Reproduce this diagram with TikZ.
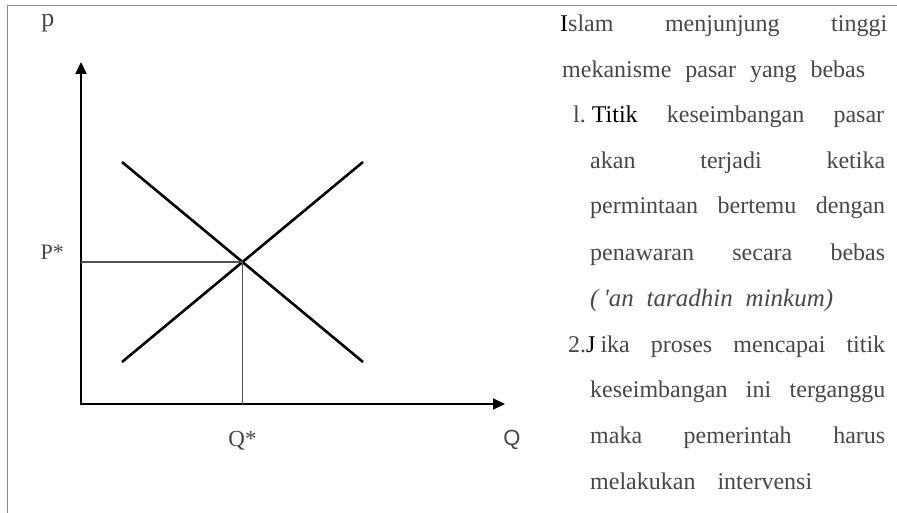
\documentclass[tikz,border=0pt]{standalone}
\usepackage{fontspec}
\setmainfont{Liberation Serif}
\newfontfamily\qfont{Liberation Sans}
\usepackage{xcolor}
\usetikzlibrary{positioning, arrows.meta}
\definecolor{bodygray}{RGB}{72,72,72}
\definecolor{framegray}{RGB}{140,140,140}
\definecolor{guidegray}{RGB}{80,80,80}

\tikzset{
  curve/.style={line width=2.6pt, black},
  axis/.style={line width=2pt, black, {Triangle[length=12pt,width=11pt]}-{Triangle[length=12pt,width=11pt]}},
  guide/.style={line width=1.3pt, guidegray},
  frame/.style={line width=1pt, framegray},
  axislabel/.style={inner sep=0pt, text=bodygray},
  textline/.style={anchor=base west, inner sep=0pt, text=bodygray, font=\fontsize{24}{28}\selectfont},
}

\begin{document}
\begin{tikzpicture}[x=1pt, y=-1pt]
    \useasboundingbox (0,0) rectangle (897,513);
    \fill[white] (0,0) rectangle (897,513);
    % Frame
    \draw[frame] (7,513) -- (7,6) -- (897,6);

    % Axes
    \coordinate (O) at (81,404);
    \coordinate (ytip) at (81,62);
    \coordinate (xtip) at (505,404);
    \draw[axis] (ytip) -- (O) -- (xtip);

    % Demand and supply
    \coordinate (d1) at (122,162);
    \coordinate (d2) at (363,362);
    \coordinate (s1) at (122,362);
    \coordinate (s2) at (363,162);
    \draw[curve] (d1) -- (d2);
    \draw[curve] (s1) -- (s2);

    % Equilibrium
    \coordinate (eq) at (intersection of d1--d2 and s1--s2);
    \coordinate (pstar) at (O |- eq);
    \coordinate (qstar) at (eq |- O);
    \draw[guide] (pstar) -- (eq) -- (qstar);

    % Labels
    \node (plabel) [axislabel, anchor=base, font=\fontsize{26}{30}\selectfont] at (48,27) {p};
    \node (pstarlabel) [axislabel, anchor=base east, font=\fontsize{22}{26}\selectfont] at (64,259) {P*};
    \node (qstarlabel) [axislabel, below=42pt of qstar, anchor=base, font=\fontsize{23}{27}\selectfont] {Q*};
    \node (qlabel) [axislabel, anchor=base, font=\qfont\fontsize{22}{26}\selectfont] at (512,445) {Q};

    % Text
    \node (islam) [textline] at (560,32) {\makebox[327pt][s]{{\color{black}I}slam menjunjung tinggi}};
    \node (mekanisme) [textline] at (562,78) {\makebox[303pt][s]{mekanisme pasar yang bebas}};
    \node (titik) [textline] at (573,123) {\makebox[311pt][s]{l.\hspace{6pt}{\color{black}Titik} keseimbangan pasar}};
    \node (akan) [textline] at (590,169) {\makebox[295pt][s]{akan terjadi ketika}};
    \node (permintaan) [textline] at (590,214) {\makebox[295pt][s]{permintaan bertemu dengan}};
    \node (penawaran) [textline] at (590,260) {\makebox[295pt][s]{penawaran secara bebas}};
    \node (taradhin) [textline, font=\fontsize{25}{29}\selectfont] at (590,306) {\makebox[243pt][s]{\itshape (\hspace{5pt}\textquotesingle an taradhin minkum)}};
    \node (jika) [textline] at (568,352) {\makebox[317pt][s]{2.{\color{black}J}\hspace{5pt}ika proses mencapai titik}};
    \node (keseimbangan) [textline] at (590,397) {\makebox[295pt][s]{keseimbangan ini terganggu}};
    \node (maka) [textline] at (590,443) {\makebox[295pt][s]{maka pemerintah harus}};
    \node (melakukan) [textline] at (590,489) {\makebox[222pt][s]{melakukan intervensi}};
\end{tikzpicture}
\end{document}
